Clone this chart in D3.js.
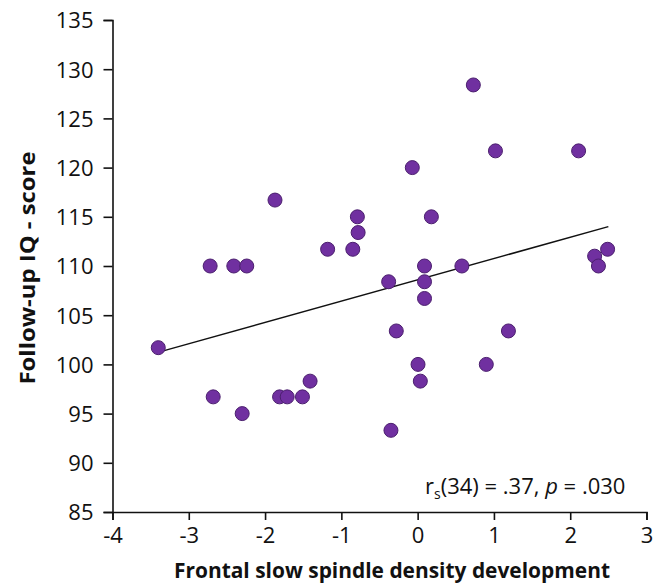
<!DOCTYPE html>
<html><head><meta charset="utf-8">
<script src="https://cdn.jsdelivr.net/npm/d3@7"></script>
<style>body{margin:0;background:#fff}svg{display:block}</style>
</head><body>
<svg id="c" width="665" height="587"></svg>
<script>
const xTicks = [-4,-3,-2,-1,0,1,2,3];
const yTicks = [85,90,95,100,105,110,115,120,125,130,135];
const xValues = [-1.87,-0.79,-0.78,-1.18,-0.85,-2.72,-2.41,-2.24,
  0.73,1.02,2.11,-0.07,0.18,2.49,2.32,2.37,0.09,0.58,
  -3.40,-2.68,-2.30,-1.81,-1.71,-1.51,-1.41,
  -0.38,0.09,0.09,-0.28,1.19,0.005,0.035,0.90,-0.35];
const yValues = [116.7,115.0,113.4,111.7,111.7,110,110,110,
  128.4,121.7,121.7,120.0,115.0,111.7,111.0,110.0,110.0,110.0,
  101.7,96.7,95.0,96.7,96.7,96.7,98.3,
  108.4,108.4,106.7,103.4,103.4,100.0,98.3,100.0,93.3];
const fitX = [-3.37, 2.50];
const fitY = [101.3, 114.0];
const xTitle = "Frontal slow spindle density development";
const yTitle = "Follow-up IQ - score";

const svg = d3.select("#c");
const font = "'Open Sans', sans-serif";
const x = d3.scaleLinear().domain([-4,3]).range([112.5,646.5]);
const y = d3.scaleLinear().domain([85,135]).range([512,20]);

const gx = svg.append("g").attr("transform","translate(0,512)")
  .call(d3.axisBottom(x).tickValues(xTicks).tickFormat(d=>String(d)).tickSizeOuter(0).tickSize(8).tickPadding(3));
const gy = svg.append("g").attr("transform","translate(112.5,0)")
  .call(d3.axisLeft(y).tickValues(yTicks).tickFormat(d=>String(d)).tickSizeOuter(0).tickSize(9).tickPadding(10));
[gx,gy].forEach(g=>{
  g.attr("font-size",null).attr("font-family",null);
  g.selectAll("path,line").attr("stroke","#111").attr("stroke-width",1.6);
  g.selectAll("text").style("font-family",font).style("font-size","22px").attr("fill","#111");
});
gx.selectAll("text").attr("dy","0.92em");
gy.selectAll("text").attr("dy","0.36em");

// regression line
svg.append("line")
  .attr("x1",x(fitX[0])).attr("y1",y(fitY[0]))
  .attr("x2",x(fitX[1])).attr("y2",y(fitY[1]))
  .attr("stroke","#111").attr("stroke-width",1.5);

const pts = xValues.map((v,i)=>({x:v,y:yValues[i]}));
svg.append("g").selectAll("circle").data(pts).join("circle")
  .attr("cx",d=>x(d.x)).attr("cy",d=>y(d.y)).attr("r",7)
  .attr("fill","#7030a0").attr("stroke","#4b1f6e").attr("stroke-width",1);

// annotation
const ann = svg.append("text").attr("x",425).attr("y",494)
  .style("font-family",font).style("font-size","22px").attr("fill","#111");
ann.append("tspan").text("r");
ann.append("tspan").style("font-size","14px").attr("dy",5).text("s");
ann.append("tspan").attr("dy",-5).text("(34) = .37, ");
ann.append("tspan").attr("font-style","italic").text("p");
ann.append("tspan").text(" = .030");

svg.append("text").attr("x",392).attr("y",578).attr("text-anchor","middle")
  .style("font-family",font).attr("font-weight","bold").style("font-size","22px")
  .attr("fill","#111").attr("textLength",436).attr("lengthAdjust","spacingAndGlyphs").text(xTitle);

svg.append("text").attr("transform","translate(35,268) rotate(-90)").attr("text-anchor","middle")
  .style("font-family",font).attr("font-weight","bold").style("font-size","21px")
  .attr("fill","#111").attr("textLength",233).attr("lengthAdjust","spacingAndGlyphs").text(yTitle);
</script>
</body></html>
